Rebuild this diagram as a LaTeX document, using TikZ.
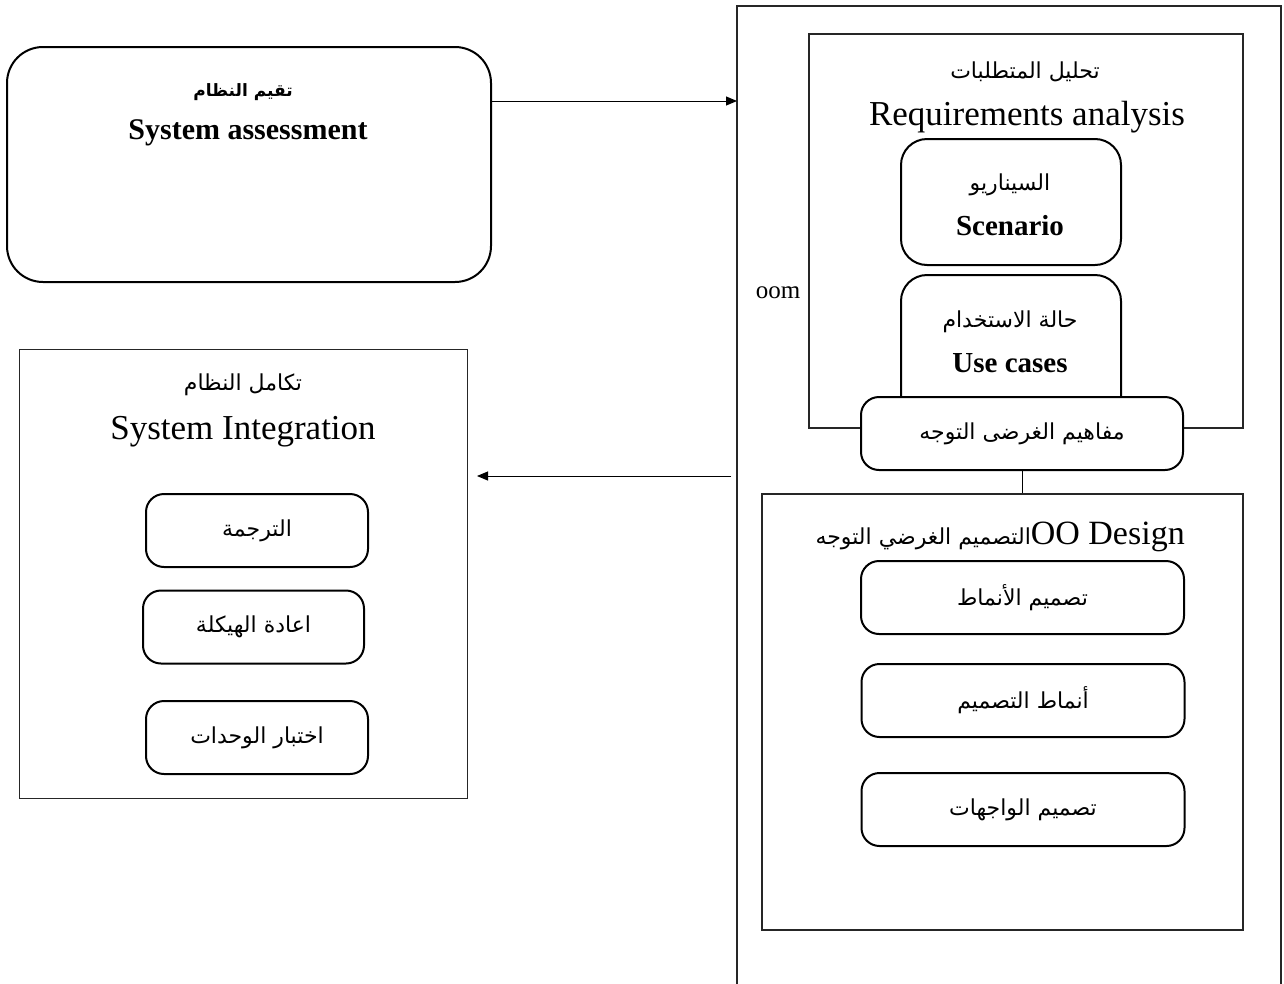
\documentclass[tikz,border=0pt]{standalone}
\usepackage{fontspec}
\setmainfont{Liberation Serif}
\newfontfamily\arabicfont[Script=Arabic]{DejaVu Sans}
\TeXXeTstate=1
\usetikzlibrary{arrows.meta,calc}
\newcommand{\ar}[1]{{\arabicfont\beginR #1\endR}}
\tikzset{
  frame/.style={draw=black!85, line width=1.2pt, rectangle, inner sep=0pt},
  rbox/.style={draw=black, line width=2pt, rectangle, rounded corners=#1, inner sep=0pt, fill=white},
  rbox/.default=16pt,
  conn/.style={draw=black, line width=1pt, -{Triangle[length=11pt,width=9pt]}},
  plainline/.style={draw=black, line width=1pt},
  big/.style={font=\fontsize{35}{40}\selectfont},
  bold/.style={font=\fontsize{29}{34}\selectfont\bfseries},
  artext/.style={font=\fontsize{22}{26}\selectfont},
}
\begin{document}
\begin{tikzpicture}[x=1pt,y=-1pt]
\useasboundingbox (0,0) rectangle (1284,983);
\fill[white] (0,0) rectangle (1284,983);

% system assessment
\node[rbox=36pt, minimum width=484pt, minimum height=235pt] (sa) at (249,164.5) {};
\node[font=\fontsize{17}{20}\selectfont\bfseries] (saar) at (243,92) {\ar{تقيم النظام}};
\node[font=\fontsize{30}{34}\selectfont\bfseries] (saen) at (248,133) {System assessment};

% object-oriented modelling frame, open at the bottom
\draw[black!85, line width=1.2pt] (737,990) -- (737,6) -- (1281,6) -- (1281,990);
\coordinate (oomin) at (737,101);
\node[font=\fontsize{25}{28}\selectfont] (oom) at (778,293) {oom};

% requirements analysis
\node[frame, minimum width=434pt, minimum height=394pt] (req) at (1026,231) {};
\node[artext] (reqar) at (1025,72) {\ar{تحليل المتطلبات}};
\node[big] (reqen) at (1027,117) {Requirements analysis};

\node[rbox=26pt, minimum width=220pt, minimum height=126pt] (scen) at (1011,202) {};
\node[artext] (scenar) at (1010,185) {\ar{السيناريو}};
\node[bold] (scenen) at (1010,226) {Scenario};

\node[rbox=26pt, minimum width=220pt, minimum height=150pt] (uc) at (1011,350) {};
\node[artext] (ucar) at (1010,322) {\ar{حالة الاستخدام}};
\node[bold] (ucen) at (1010,363) {Use cases};

\node[rbox=18pt, minimum width=322pt, minimum height=73pt, artext] (conc) at (1022,433.5) {\ar{مفاهيم الغرضى التوجه}};

% object-oriented design
\node[frame, minimum width=481pt, minimum height=436pt] (des) at (1002.5,712) {};
\node[anchor=base east, inner sep=0pt] (destitle) at (1185,544)
  {\ar{\fontsize{22}{26}\selectfont التصميم الغرضي التوجه}\fontsize{34}{38}\selectfont OO Design};
\node[rbox=18pt, minimum width=323pt, minimum height=73pt, artext] (d1) at (1022.5,597.5) {\ar{تصميم الأنماط}};
\node[rbox=18pt, minimum width=323pt, minimum height=73pt, artext] (d2) at (1023,700.5) {\ar{أنماط التصميم}};
\node[rbox=18pt, minimum width=323pt, minimum height=73pt, artext] (d3) at (1023,809.5) {\ar{تصميم الواجهات}};

\draw[plainline] (conc.south) -- (conc.south |- des.north);

% system integration
\node[frame, minimum width=448pt, minimum height=449pt] (si) at (243.5,574) {};
\node[artext] (siar) at (243,385) {\ar{تكامل النظام}};
\node[big] (sien) at (243,432) {System Integration};
\node[rbox=18pt, minimum width=222pt, minimum height=73pt, artext] (s1) at (257,530.5) {\ar{الترجمة}};
\node[rbox=18pt, minimum width=221pt, minimum height=73pt, artext] (s2) at (253.5,627) {\ar{اعادة الهيكلة}};
\node[rbox=18pt, minimum width=222pt, minimum height=73pt, artext] (s3) at (257,737.5) {\ar{اختبار الوحدات}};

% connectors
\coordinate (oomout) at (731,476);
\coordinate (siin) at (477,476);
\draw[conn] (sa.east |- oomin) -- (oomin);
\draw[conn] (oomout) -- (siin);
\end{tikzpicture}
\end{document}
